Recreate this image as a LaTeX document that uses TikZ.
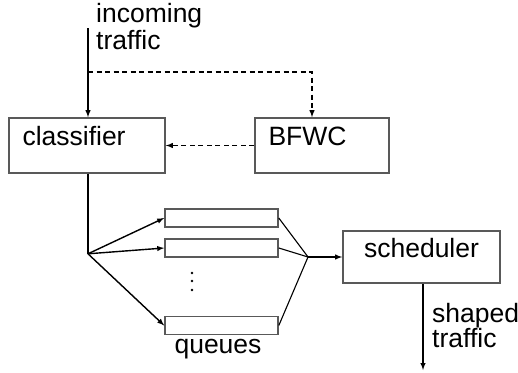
\documentclass[tikz,border=0pt]{standalone}
\usepackage{fontspec}
\setmainfont{Liberation Sans}
\usetikzlibrary{calc}

\begin{document}
\begin{tikzpicture}[x=1pt,y=-1pt,
  font=\fontsize{26.5}{27}\selectfont,
  box/.style={draw=black!65,line width=1.6pt,rectangle,inner xsep=13.5pt,inner ysep=0pt,
    text height=10pt,text depth=10pt},
  queue/.style={draw=black!65,line width=1.6pt,rectangle,minimum width=113pt,
    minimum height=18pt,inner sep=0pt},
  flow/.style={line width=1.4pt,-latex},
  ctrl/.style={line width=1.4pt,dash pattern=on 5pt off 3.5pt,-latex}]
\useasboundingbox (0,0) rectangle (518,372);

% the three boxes
\node[box,text width=129pt,align=left,minimum height=55pt] (classifier) at (87,145.5) {classifier};
\node[box,text width=107pt,align=left,minimum height=55pt] (bfwc) at (322,145.5) {BFWC};
\node[box,text width=130pt,align=center,minimum height=52pt] (scheduler) at (421.5,257) {scheduler};

% queues
\node[queue] (q1) at (221.5,218) {};
\node[queue] (q2) at (221.5,248) {};
\node[queue] (q3) at (221.5,325.5) {};
\foreach \y in {273,281,290}
	\fill (192,\y) circle (1.3pt);
\node[anchor=base] (qlabel) at (218,353) {queues};

% incoming traffic and the tap to BFWC
\coordinate (src) at (88,28);
\coordinate (tap) at (88,72);
\node[anchor=base west,align=left,inner sep=0pt] (intxt) at (96,49) {incoming\\traffic};
\draw[flow] (src) -- (src |- classifier.north);
\draw[ctrl] (tap) -| ([xshift=-10pt]bfwc.north);
\draw[ctrl] (bfwc.west) -- (classifier.east);

% classifier to queues
\coordinate (split) at ($(classifier.south)+(1,80)$);
\draw[line width=1.4pt] (split |- classifier.south) -- (split);
\foreach \q in {q1,q2,q3}
	\draw[flow] (split) -- (\q.west);

% queues to scheduler
\coordinate (merge) at (308,257);
\foreach \q in {q1,q2,q3}
	\draw[line width=1.1pt] (\q.east) -- (merge);
\draw[flow] (merge) -- (scheduler.west);

% shaped traffic out
\coordinate (sink) at (423,370);
\draw[flow] (sink |- scheduler.south) -- (sink);
\node[anchor=base west,align=left,inner sep=0pt,font=\fontsize{26.5}{25}\selectfont] (outtxt) at (432,347) {shaped\\traffic};
\end{tikzpicture}
\end{document}
